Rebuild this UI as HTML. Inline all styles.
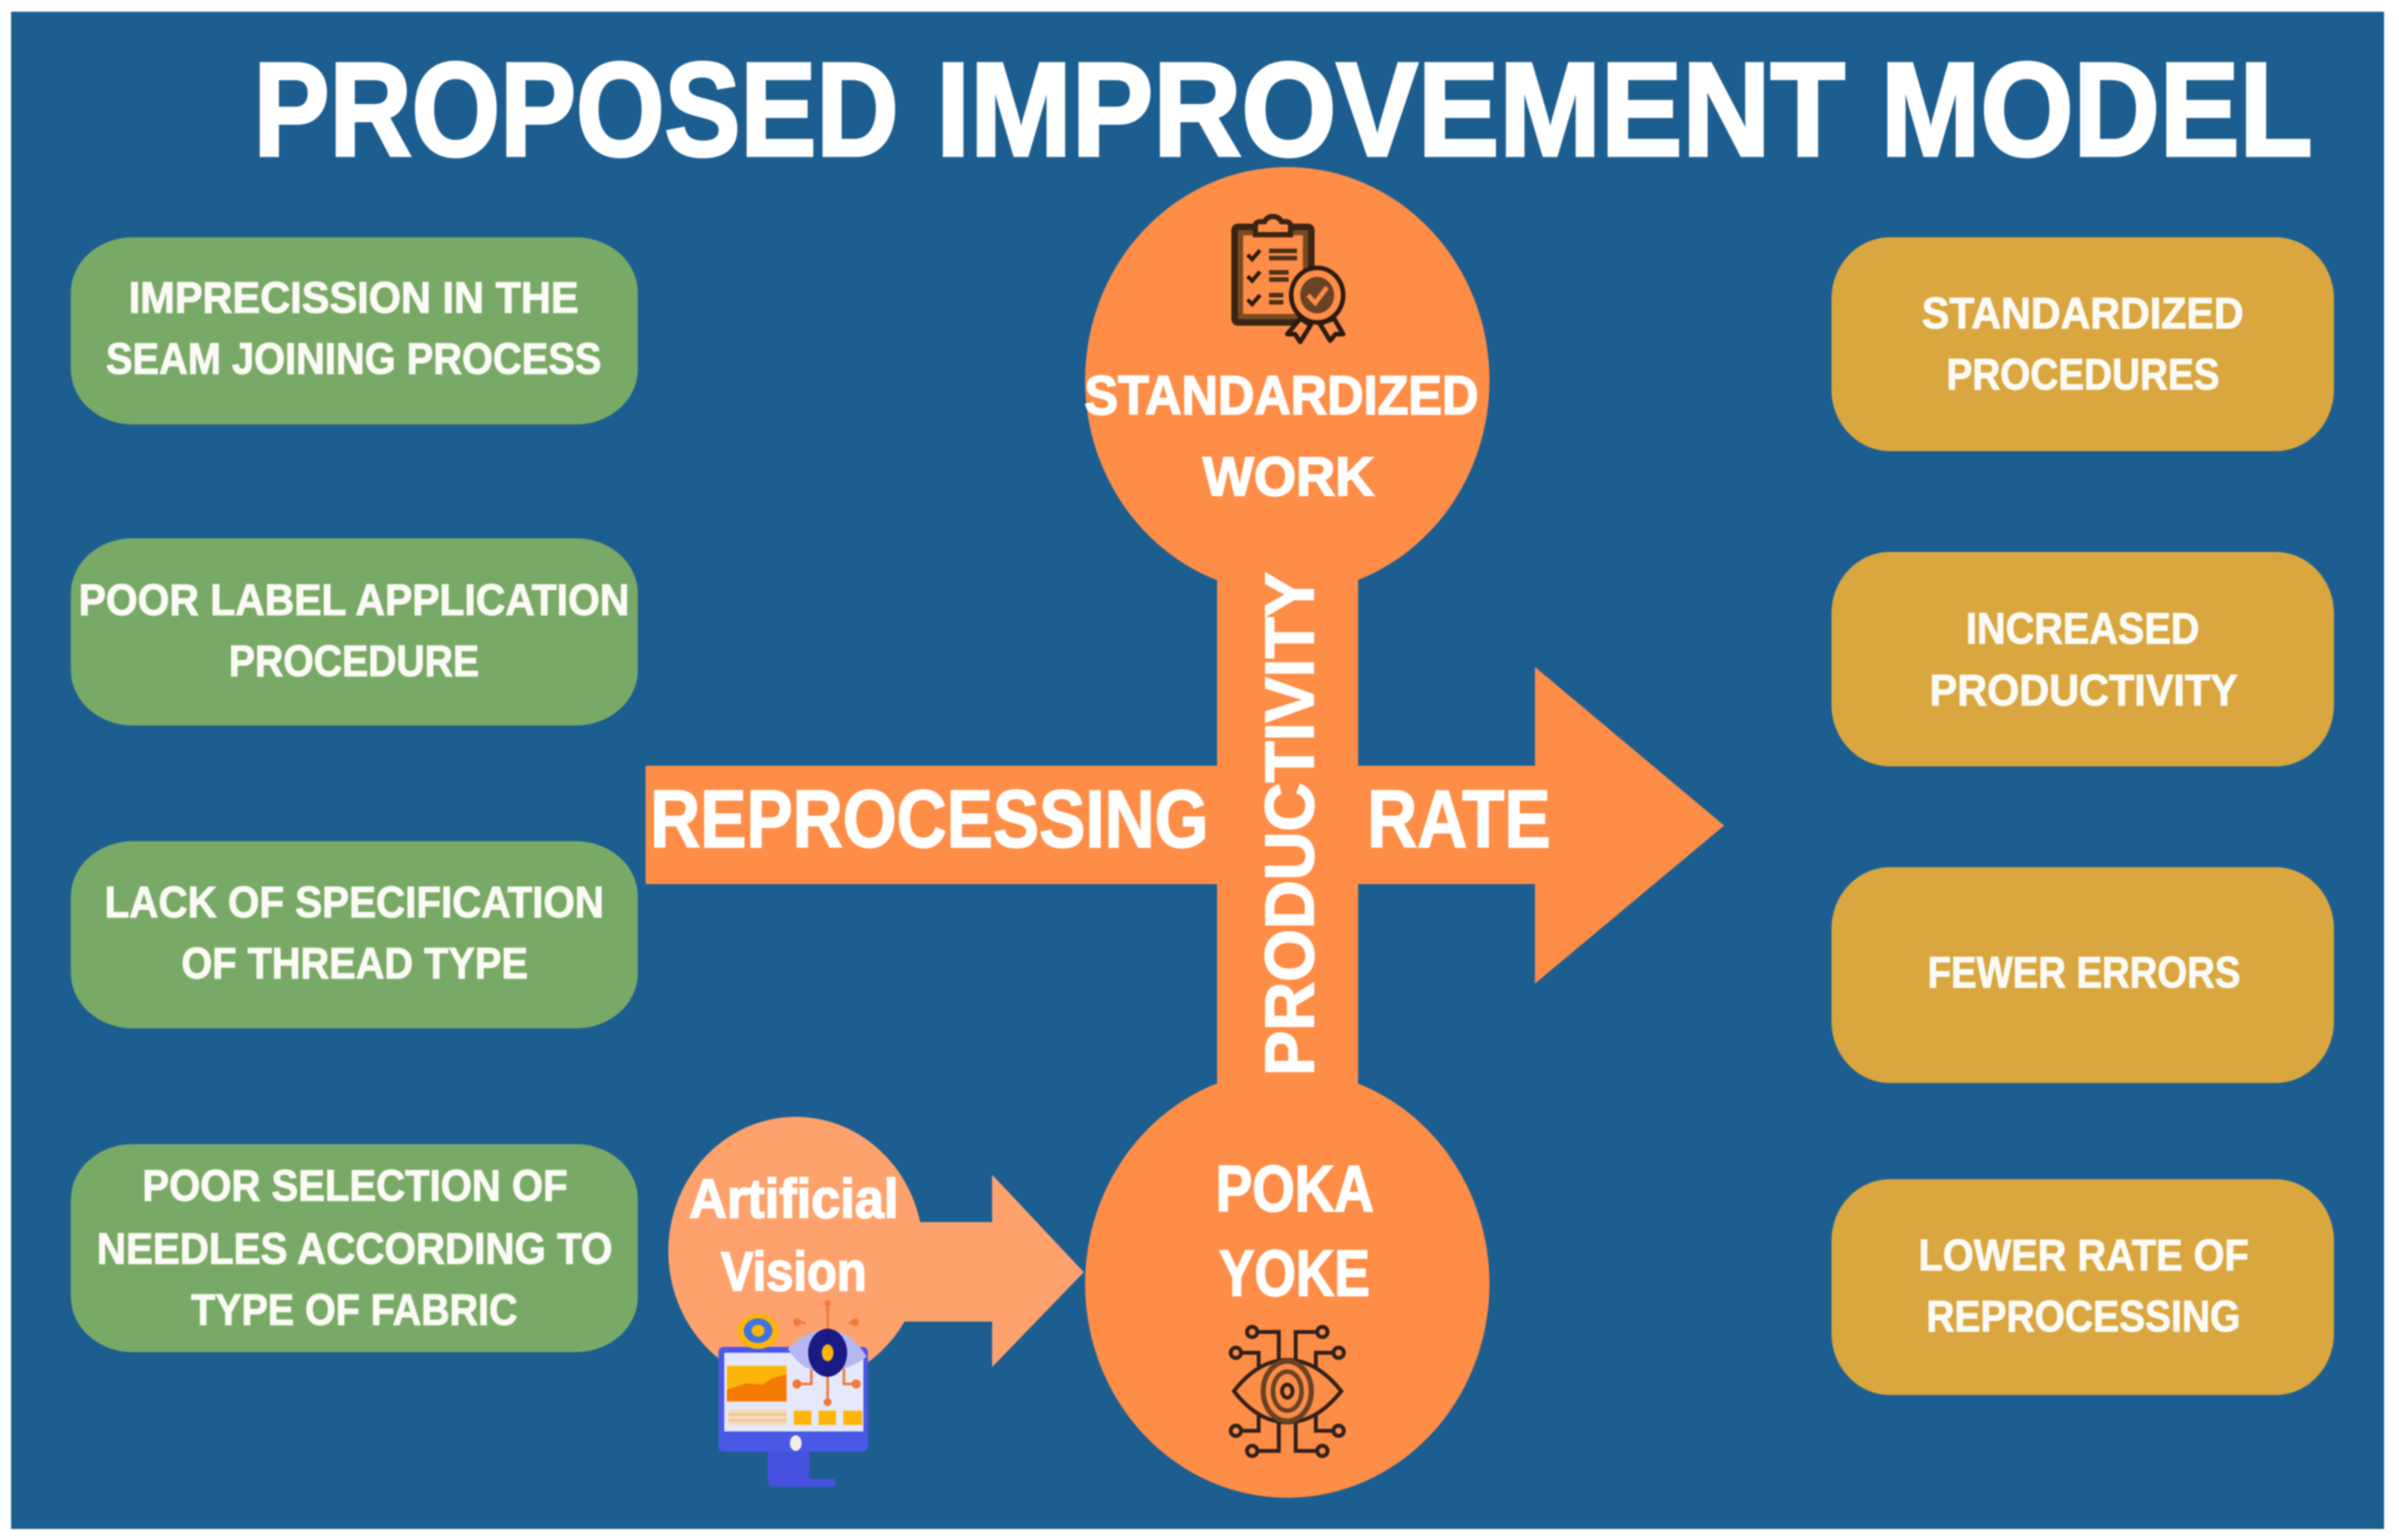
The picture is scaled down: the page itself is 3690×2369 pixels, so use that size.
<!DOCTYPE html>
<html lang="en">
<head>
<meta charset="utf-8">
<title>Proposed Improvement Model</title>
<style>
html,body{margin:0;padding:0;background:#fff;width:3690px;height:2369px;overflow:hidden}
svg{display:block;filter:blur(1px)}
text{font-family:"Liberation Sans",sans-serif;font-weight:700;fill:#fff;stroke:#fff;stroke-width:1.5px}
.b{font-size:68px;fill:#fbfbf6;stroke:#fbfbf6}
.t{stroke-width:5px}
.c{stroke-width:2.5px}
</style>
</head>
<body>
<svg width="3690" height="2369" viewBox="0 0 3690 2369" xmlns="http://www.w3.org/2000/svg">
<rect width="3690" height="2369" fill="#fff"/>
<rect x="17" y="18" width="3650" height="2334" fill="#1d5e90"/>

<!-- title -->
<text class="t" x="390" y="239" font-size="205" textLength="992" lengthAdjust="spacingAndGlyphs">PROPOSED</text>
<text class="t" x="1440" y="239" font-size="205" textLength="1398" lengthAdjust="spacingAndGlyphs">IMPROVEMENT</text>
<text class="t" x="2893" y="239" font-size="205" textLength="664" lengthAdjust="spacingAndGlyphs">MODEL</text>

<!-- green boxes -->
<g fill="#79a966">
<rect x="109" y="365" width="872" height="288" rx="95" ry="85"/>
<rect x="109" y="828" width="872" height="288" rx="95" ry="85"/>
<rect x="109" y="1294" width="872" height="288" rx="95" ry="85"/>
<rect x="109" y="1760" width="872" height="320" rx="95" ry="85"/>
</g>
<text class="b" x="198" y="481" textLength="692" lengthAdjust="spacingAndGlyphs">IMPRECISSION IN THE</text>
<text class="b" x="163" y="575" textLength="762" lengthAdjust="spacingAndGlyphs">SEAM JOINING PROCESS</text>
<text class="b" x="121" y="946" textLength="847" lengthAdjust="spacingAndGlyphs">POOR LABEL APPLICATION</text>
<text class="b" x="352" y="1040" textLength="385" lengthAdjust="spacingAndGlyphs">PROCEDURE</text>
<text class="b" x="161" y="1411" textLength="768" lengthAdjust="spacingAndGlyphs">LACK OF SPECIFICATION</text>
<text class="b" x="279" y="1505" textLength="533" lengthAdjust="spacingAndGlyphs">OF THREAD TYPE</text>
<text class="b" x="219" y="1847" textLength="654" lengthAdjust="spacingAndGlyphs">POOR SELECTION OF</text>
<text class="b" x="149" y="1944" textLength="793" lengthAdjust="spacingAndGlyphs">NEEDLES ACCORDING TO</text>
<text class="b" x="294" y="2038" textLength="502" lengthAdjust="spacingAndGlyphs">TYPE OF FABRIC</text>

<!-- yellow boxes -->
<g fill="#d9a63f">
<rect x="2817" y="365" width="773" height="329" rx="90" ry="95"/>
<rect x="2817" y="849" width="773" height="330" rx="90" ry="95"/>
<rect x="2817" y="1334" width="773" height="332" rx="90" ry="95"/>
<rect x="2817" y="1814" width="773" height="332" rx="90" ry="95"/>
</g>
<text class="b" x="2956" y="505" textLength="495" lengthAdjust="spacingAndGlyphs">STANDARDIZED</text>
<text class="b" x="2994" y="599" textLength="420" lengthAdjust="spacingAndGlyphs">PROCEDURES</text>
<text class="b" x="3024" y="990" textLength="359" lengthAdjust="spacingAndGlyphs">INCREASED</text>
<text class="b" x="2968" y="1085" textLength="474" lengthAdjust="spacingAndGlyphs">PRODUCTIVITY</text>
<text class="b" x="2965" y="1519" textLength="481" lengthAdjust="spacingAndGlyphs">FEWER ERRORS</text>
<text class="b" x="2951" y="1954" textLength="508" lengthAdjust="spacingAndGlyphs">LOWER RATE OF</text>
<text class="b" x="2963" y="2048" textLength="483" lengthAdjust="spacingAndGlyphs">REPROCESSING</text>

<!-- small circle + arrow -->
<ellipse cx="1224" cy="1925" rx="196" ry="207" fill="#fea26d"/>
<polygon points="1380,1880 1526,1880 1526,1807 1667,1957 1526,2103 1526,2033 1380,2033" fill="#fea26d"/>

<!-- main orange -->
<g fill="#fd8d47">
<polygon points="993,1178 2361,1178 2361,1026 2652,1270 2361,1513 2361,1360 993,1360"/>
<rect x="1872" y="850" width="217" height="850"/>
<ellipse cx="1980" cy="585" rx="311" ry="328"/>
<ellipse cx="1980" cy="1975" rx="311" ry="329"/>
</g>

<!-- centre text -->
<text class="c" x="1668" y="637" font-size="84" textLength="606" lengthAdjust="spacingAndGlyphs">STANDARDIZED</text>
<text class="c" x="1850" y="762" font-size="84" textLength="264" lengthAdjust="spacingAndGlyphs">WORK</text>
<text class="c" x="1000" y="1303" font-size="125" textLength="859" lengthAdjust="spacingAndGlyphs">REPROCESSING</text>
<text class="c" x="2103" y="1303" font-size="125" textLength="282" lengthAdjust="spacingAndGlyphs">RATE</text>
<text class="c" transform="translate(2020,1655) rotate(-90)" font-size="106" textLength="775" lengthAdjust="spacingAndGlyphs">PRODUCTIVITY</text>
<text class="c" x="1870" y="1863" font-size="100" textLength="243" lengthAdjust="spacingAndGlyphs">POKA</text>
<text class="c" x="1875" y="1993" font-size="100" textLength="232" lengthAdjust="spacingAndGlyphs">YOKE</text>
<text class="c" x="1060" y="1873" font-size="84" textLength="322" lengthAdjust="spacingAndGlyphs">Artificial</text>
<text class="c" x="1109" y="1985" font-size="84" textLength="224" lengthAdjust="spacingAndGlyphs">Vision</text>

<!-- clipboard icon -->
<g>
<rect x="1899" y="349" width="118" height="147" rx="5" fill="#fd8d47" stroke="#3a2414" stroke-width="10"/>
<rect x="1908" y="358" width="100" height="129" fill="#fd8d47" stroke="#7a4a22" stroke-width="8"/>
<path d="M1931 361v-14q0-6 8-6h6q4-8 13-8t13 8h6q8 0 8 6v14z" fill="#fd8d47" stroke="#3a2414" stroke-width="8"/>
<g fill="none" stroke="#2c1b10" stroke-width="6">
<path d="M1919 392l7 7 12-14"/>
<path d="M1919 425l7 7 12-14"/>
<path d="M1919 461l7 7 12-14"/>
<path d="M1952 386h43M1952 397h43M1952 419h30M1952 430h30M1952 454h22M1952 465h22" stroke-width="7" stroke="#4d3019"/>
</g>
<path d="M2000 490l-20 24 12 0 8 12 16-26zM2052 490l14 24-12 0-8 10-16-26z" fill="#fd8d47" stroke="#2c1b10" stroke-width="7" stroke-linejoin="round"/>
<ellipse cx="2026" cy="454" rx="40" ry="42" fill="#fd8d47" stroke="#2c1b10" stroke-width="7"/>
<ellipse cx="2026" cy="454" rx="26" ry="28" fill="#6a4224"/>
<path d="M2012 454l11 12 18-24" fill="none" stroke="#fd8d47" stroke-width="7"/>
</g>

<!-- circuit eye icon -->
<g fill="none" stroke="#33201a" stroke-width="6">
<path d="M1898 2140Q1935 2092 1980 2092T2063 2140Q2025 2188 1980 2188T1898 2140Z"/>
<ellipse cx="1980" cy="2140" rx="37" ry="46" stroke="#6a4224" stroke-width="8"/>
<ellipse cx="1980" cy="2140" rx="22" ry="30" stroke="#6a4224" stroke-width="7"/>
<ellipse cx="1980" cy="2140" rx="8" ry="10"/>
<path d="M1934 2049h33v43M2026 2049h-33v43M1909 2081h27v24M2051 2081h-27v24M1909 2201h27v-24M2051 2201h-27v-24M1934 2232h33v-44M2026 2232h-33v-44"/>
<circle cx="1926" cy="2049" r="8"/>
<circle cx="2034" cy="2049" r="8"/>
<circle cx="1901" cy="2081" r="8"/>
<circle cx="2059" cy="2081" r="8"/>
<circle cx="1901" cy="2201" r="8"/>
<circle cx="2059" cy="2201" r="8"/>
<circle cx="1926" cy="2232" r="8"/>
<circle cx="2034" cy="2232" r="8"/>
</g>

<!-- monitor icon -->
<g>
<path d="M1181 2229h64v41q0 5 5 5h35v12h-94q-10 0-10-10z" fill="#4651e0"/>
<rect x="1105" y="2072" width="230" height="161" rx="8" fill="#4a58e6"/>
<rect x="1114" y="2081" width="214" height="121" fill="#e6e9fa"/>
<rect x="1118" y="2101" width="92" height="55" fill="#f57a00"/>
<path d="M1118 2101h92v13l-22 6-16 10-24-2-30 10z" fill="#fdb50c"/>
<rect x="1120" y="2168" width="90" height="24" fill="#f5d9b8"/>
<path d="M1120 2176h90M1120 2185h90" stroke="#e9b98a" stroke-width="2"/>
<rect x="1221" y="2170" width="27" height="22" fill="#fdb50c"/>
<rect x="1259" y="2170" width="27" height="22" fill="#fdb50c"/>
<rect x="1297" y="2170" width="29" height="22" fill="#fdb50c"/>
<ellipse cx="1224" cy="2220" rx="9" ry="12" fill="#f2eee6"/>
<ellipse cx="1166" cy="2048" rx="32" ry="27" fill="#fdb50c"/>
<ellipse cx="1166" cy="2047" rx="22" ry="19" fill="#3f74e0"/>
<ellipse cx="1166" cy="2047" rx="10" ry="9" fill="#fdb50c"/>
<path d="M1273 2005v39M1273 2110v47M1240 2036l-14-4M1306 2036l14-4M1248 2105v24h-22M1298 2105v24h19" fill="none" stroke="#f2793a" stroke-width="4"/>
<circle cx="1273" cy="2005" r="5" fill="#f2793a"/>
<circle cx="1226" cy="2034" r="6" fill="#f2793a"/>
<circle cx="1315" cy="2034" r="6" fill="#f2793a"/>
<circle cx="1226" cy="2129" r="7" fill="#f2793a"/>
<circle cx="1317" cy="2129" r="7" fill="#f2793a"/>
<circle cx="1273" cy="2157" r="6" fill="#f2793a"/>
<path d="M1212 2075Q1238 2046 1273 2046T1333 2087Q1310 2106 1273 2110T1212 2075Z" fill="#b4b7f0"/>
<ellipse cx="1273" cy="2081" rx="30" ry="37" fill="#1a1a85"/>
<ellipse cx="1273" cy="2081" rx="9" ry="13" fill="#fdb50c"/>
</g>
</svg>
</body>
</html>
